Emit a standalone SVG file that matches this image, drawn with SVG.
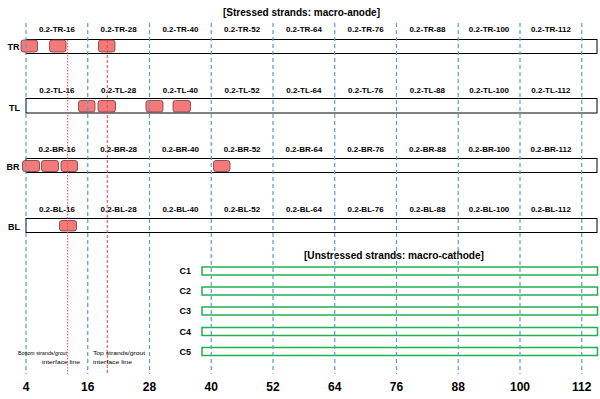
<svg xmlns="http://www.w3.org/2000/svg" width="600" height="399" viewBox="0 0 600 399">
<defs>
<style>
.bar{fill:#fff;stroke:#000;stroke-width:1}
.cbar{fill:#fff;stroke:#20b050;stroke-width:1.5}
.box{fill:#f37a7a;stroke:#7a3535;stroke-width:0.8}
.lab{font-family:"Liberation Sans",Arial,sans-serif;font-weight:bold;font-size:8px;fill:#000;text-anchor:middle}
.row{font-family:"Liberation Sans",Arial,sans-serif;font-weight:bold;font-size:9px;fill:#000;text-anchor:end}
.ttl{font-family:"Liberation Sans",Arial,sans-serif;font-weight:bold;font-size:10px;fill:#000}
.num{font-family:"Liberation Sans",Arial,sans-serif;font-weight:bold;font-size:12px;fill:#000;text-anchor:middle}
.sm{font-family:"Liberation Sans",Arial,sans-serif;font-size:5.5px;fill:#000}
.blue{stroke:#5b9bd5;stroke-width:1.2;stroke-dasharray:4,3;fill:none}
.red1{stroke:#ff4040;stroke-width:1;stroke-dasharray:1.5,1.5;fill:none}
.red2{stroke:#ff4040;stroke-width:1;stroke-dasharray:3,2;fill:none}
</style>
</defs>
<rect width="600" height="399" fill="#fff"/>
<text class="ttl" x="223" y="16" textLength="157" lengthAdjust="spacingAndGlyphs">[Stressed strands: macro-anode]</text>
<text class="ttl" x="304" y="259" textLength="180" lengthAdjust="spacingAndGlyphs">[Unstressed strands: macro-cathode]</text>

<g id="TR">
<text class="row" x="19.5" y="50">TR</text>
<rect class="bar" x="26" y="39.5" width="571" height="14"/>
<rect class="box" x="21" y="40" width="16.5" height="12" rx="2.5"/>
<rect class="box" x="49.5" y="40" width="16.5" height="12" rx="2.5"/>
<rect class="box" x="98.5" y="40" width="16.5" height="12" rx="2.5"/>
<text class="lab" x="56.9" y="32">0.2-TR-16</text>
<text class="lab" x="118.6" y="32">0.2-TR-28</text>
<text class="lab" x="180.4" y="32">0.2-TR-40</text>
<text class="lab" x="242.1" y="32">0.2-TR-52</text>
<text class="lab" x="303.9" y="32">0.2-TR-64</text>
<text class="lab" x="365.6" y="32">0.2-TR-76</text>
<text class="lab" x="427.4" y="32">0.2-TR-88</text>
<text class="lab" x="489.1" y="32">0.2-TR-100</text>
<text class="lab" x="550.9" y="32">0.2-TR-112</text>
</g>

<g id="TL">
<text class="row" x="20" y="111">TL</text>
<rect class="bar" x="26" y="98.5" width="571" height="14.5"/>
<rect class="box" x="78.5" y="100.5" width="16.5" height="11.5" rx="2.5"/>
<rect class="box" x="98" y="100.5" width="17.5" height="11.5" rx="2.5"/>
<rect class="box" x="146" y="100.5" width="17" height="11.5" rx="2.5"/>
<rect class="box" x="173" y="100.5" width="17.5" height="11.5" rx="2.5"/>
<text class="lab" x="56.9" y="93">0.2-TL-16</text>
<text class="lab" x="118.6" y="93">0.2-TL-28</text>
<text class="lab" x="180.4" y="93">0.2-TL-40</text>
<text class="lab" x="242.1" y="93">0.2-TL-52</text>
<text class="lab" x="303.9" y="93">0.2-TL-64</text>
<text class="lab" x="365.6" y="93">0.2-TL-76</text>
<text class="lab" x="427.4" y="93">0.2-TL-88</text>
<text class="lab" x="489.1" y="93">0.2-TL-100</text>
<text class="lab" x="550.9" y="93">0.2-TL-112</text>
</g>

<g id="BR">
<text class="row" x="19.5" y="169.5">BR</text>
<rect class="bar" x="26" y="158.5" width="571" height="14"/>
<rect class="box" x="22.5" y="160.5" width="17" height="11" rx="2.5"/>
<rect class="box" x="41.5" y="160.5" width="17" height="11" rx="2.5"/>
<rect class="box" x="61" y="160.5" width="16.5" height="11" rx="2.5"/>
<rect class="box" x="213.5" y="160.5" width="16.5" height="11" rx="2.5"/>
<text class="lab" x="56.9" y="152">0.2-BR-16</text>
<text class="lab" x="118.6" y="152">0.2-BR-28</text>
<text class="lab" x="180.4" y="152">0.2-BR-40</text>
<text class="lab" x="242.1" y="152">0.2-BR-52</text>
<text class="lab" x="303.9" y="152">0.2-BR-64</text>
<text class="lab" x="365.6" y="152">0.2-BR-76</text>
<text class="lab" x="427.4" y="152">0.2-BR-88</text>
<text class="lab" x="489.1" y="152">0.2-BR-100</text>
<text class="lab" x="550.9" y="152">0.2-BR-112</text>
</g>

<g id="BL">
<text class="row" x="20" y="230">BL</text>
<rect class="bar" x="26" y="218.5" width="571" height="14"/>
<rect class="box" x="59.5" y="220.5" width="17" height="10.5" rx="2.5"/>
<text class="lab" x="56.9" y="212">0.2-BL-16</text>
<text class="lab" x="118.6" y="212">0.2-BL-28</text>
<text class="lab" x="180.4" y="212">0.2-BL-40</text>
<text class="lab" x="242.1" y="212">0.2-BL-52</text>
<text class="lab" x="303.9" y="212">0.2-BL-64</text>
<text class="lab" x="365.6" y="212">0.2-BL-76</text>
<text class="lab" x="427.4" y="212">0.2-BL-88</text>
<text class="lab" x="489.1" y="212">0.2-BL-100</text>
<text class="lab" x="550.9" y="212">0.2-BL-112</text>
</g>

<g id="C1"><text class="row" x="191" y="274">C1</text><rect class="cbar" x="202" y="267" width="395.5" height="8"/></g>
<g id="C2"><text class="row" x="191" y="294">C2</text><rect class="cbar" x="202" y="287" width="395.5" height="8"/></g>
<g id="C3"><text class="row" x="191" y="314">C3</text><rect class="cbar" x="202" y="307" width="395.5" height="8"/></g>
<g id="C4"><text class="row" x="191" y="334.5">C4</text><rect class="cbar" x="202" y="327.5" width="395.5" height="8"/></g>
<g id="C5"><text class="row" x="191" y="354.5">C5</text><rect class="cbar" x="202" y="347.5" width="395.5" height="8"/></g>

<g id="connectors">
<line class="blue" x1="26" y1="23" x2="26" y2="374"/>
<line class="blue" x1="87.75" y1="23" x2="87.75" y2="374"/>
<line class="blue" x1="149.5" y1="23" x2="149.5" y2="374"/>
<line class="blue" x1="211.25" y1="23" x2="211.25" y2="374"/>
<line class="blue" x1="273" y1="23" x2="273" y2="374"/>
<line class="blue" x1="334.75" y1="23" x2="334.75" y2="374"/>
<line class="blue" x1="396.5" y1="23" x2="396.5" y2="374"/>
<line class="blue" x1="458.25" y1="23" x2="458.25" y2="374"/>
<line class="blue" x1="520" y1="23" x2="520" y2="374"/>
<line class="blue" x1="581.75" y1="23" x2="581.75" y2="374"/>
<line class="red1" x1="67.7" y1="40" x2="67.7" y2="374"/>
<line class="red2" x1="107.3" y1="40" x2="107.3" y2="374"/>
</g>

<g id="annotations">
<text class="sm" x="18" y="355" textLength="49" lengthAdjust="spacingAndGlyphs">Bottom strands/grout</text>
<text class="sm" x="42" y="364" textLength="38" lengthAdjust="spacingAndGlyphs">interface line</text>
<text class="sm" x="93" y="355" textLength="52" lengthAdjust="spacingAndGlyphs">Top strands/grout</text>
<text class="sm" x="93" y="364" textLength="39" lengthAdjust="spacingAndGlyphs">interface line</text>
</g>

<g id="axis">
<text class="num" x="26" y="391">4</text>
<text class="num" x="87.75" y="391">16</text>
<text class="num" x="149.5" y="391">28</text>
<text class="num" x="211.25" y="391">40</text>
<text class="num" x="273" y="391">52</text>
<text class="num" x="334.75" y="391">64</text>
<text class="num" x="396.5" y="391">76</text>
<text class="num" x="458.25" y="391">88</text>
<text class="num" x="520" y="391">100</text>
<text class="num" x="581.75" y="391">112</text>
</g>
</svg>
